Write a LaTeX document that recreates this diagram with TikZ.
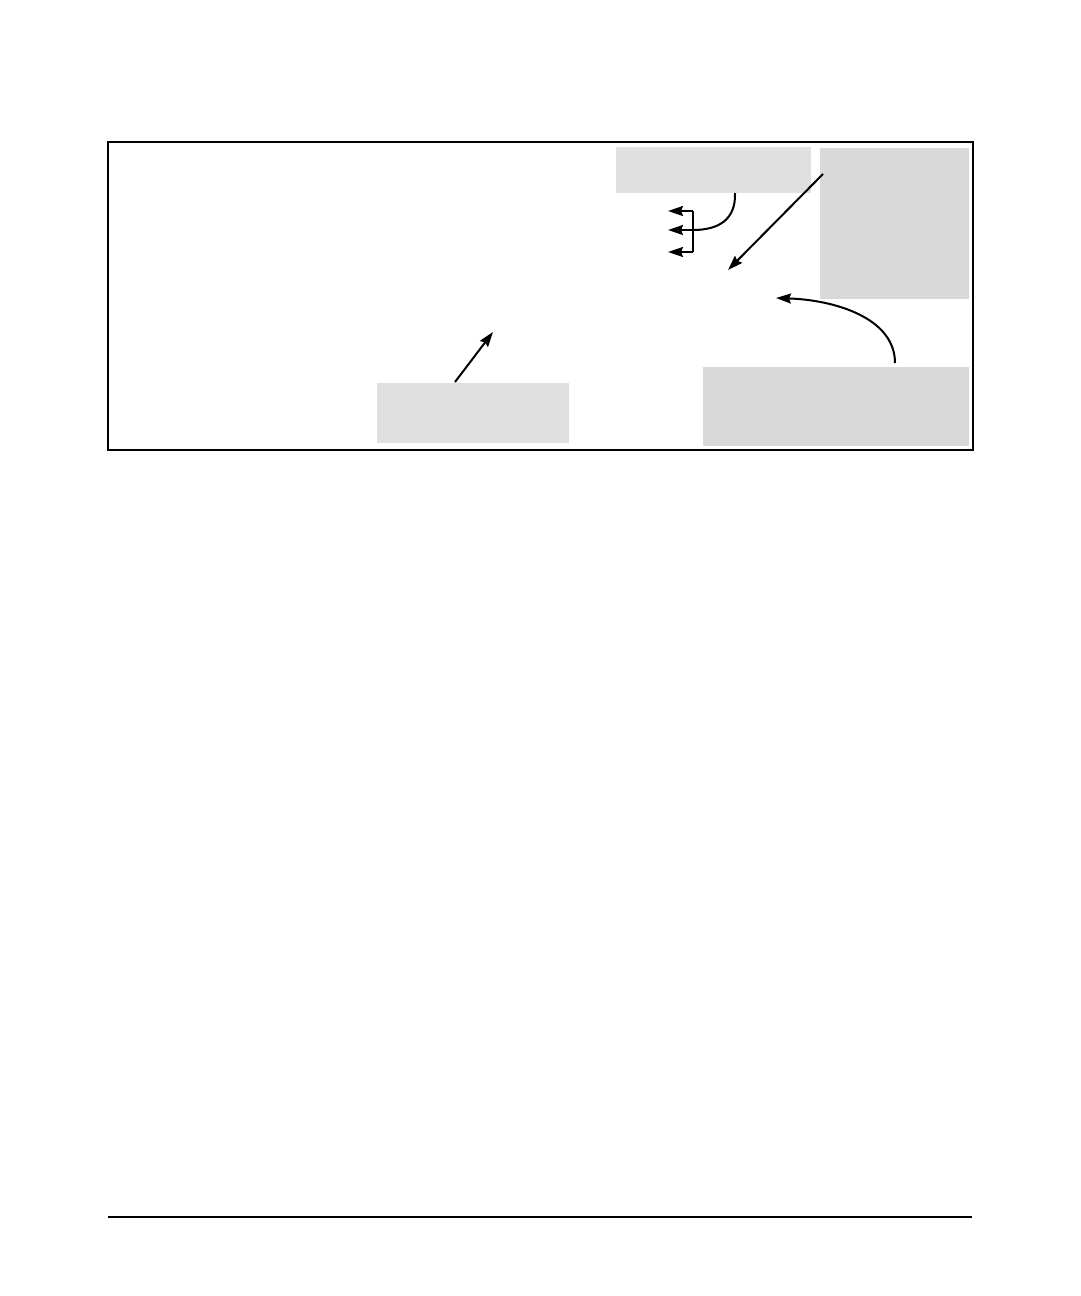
\documentclass[tikz,border=0pt]{standalone}
\usetikzlibrary{arrows.meta}
\begin{document}
\begin{tikzpicture}[x=1pt,y=-1pt,
  lightbox/.style={fill=black!12,draw=none,inner sep=0pt,outer sep=0pt,anchor=north west},
  darkbox/.style={fill=black!15,draw=none,inner sep=0pt,outer sep=0pt,anchor=north west},
  conn/.style={line width=2pt,-{Stealth[length=15pt,width=10pt,inset=2pt]}},
  plain/.style={line width=2pt}]
\useasboundingbox (0,0) rectangle (1080,1296);
\node[draw=black,line width=2pt,inner sep=0pt,outer sep=0pt,minimum width=865pt,minimum height=308pt,anchor=north west] (frame) at (108,142) {};
\node[lightbox,minimum width=195pt,minimum height=46pt] (topbox) at (616,147) {};
\node[darkbox,minimum width=149pt,minimum height=151pt] (rightbox) at (820,148) {};
\node[lightbox,minimum width=192pt,minimum height=60pt] (blbox) at (377,383) {};
\node[darkbox,minimum width=266pt,minimum height=79pt] (brbox) at (703,367) {};
% connectors
\coordinate (tcstart) at (735,193);
\coordinate (b1) at (693,211);
\coordinate (b2) at (693,230);
\coordinate (b3) at (693,252);
\coordinate (t1) at (668,211);
\coordinate (t2) at (668,230);
\coordinate (t3) at (668,252);
\draw[plain] (tcstart) .. controls (736,220) and (718,230) .. (b2);
\draw[plain] (b1) -- (b3);
\draw[conn] (b1) -- (t1);
\draw[conn] (b2) -- (t2);
\draw[conn] (b3) -- (t3);
\coordinate (dstart) at (823,174);
\coordinate (dend) at (728,270);
\draw[conn] (dstart) -- (dend);
\coordinate (cstart) at (895,363);
\coordinate (cend) at (776,298);
\draw[conn] (cstart) .. controls (895,318) and (835,300) .. (cend);
\coordinate (astart) at (455,382);
\coordinate (aend) at (493,332);
\draw[conn] (astart) -- (aend);
% footer rule
\coordinate (fl) at (108,1217);
\coordinate (fr) at (972,1217);
\draw[line width=1.3pt] (fl) -- (fr);
\end{tikzpicture}
\end{document}
